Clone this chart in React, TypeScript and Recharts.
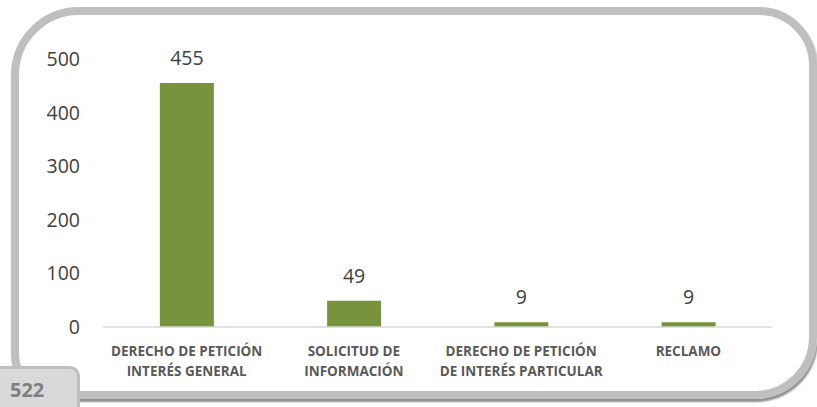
import React from "react";
import { BarChart, Bar, XAxis, YAxis, LabelList } from "recharts";

const categories = [
  "DERECHO DE PETICIÓN\nINTERÉS GENERAL",
  "SOLICITUD DE\nINFORMACIÓN",
  "DERECHO DE PETICIÓN\nDE INTERÉS PARTICULAR",
  "RECLAMO",
];
const values = [455, 49, 9, 9];
const yTicks = [0, 100, 200, 300, 400, 500];
const totalLabel = "522";

const data = categories.map((c, i) => ({ name: c, value: values[i] }));

const FONT = "'Open Sans', sans-serif";

const CatTick = (props: any) => {
  const { x, y, payload } = props;
  const lines = String(payload.value).split("\n");
  return (
    <g transform={`translate(${x},${y})`}>
      {lines.map((l: string, i: number) => (
        <text
          key={i}
          x={0}
          y={i * 20}
          dy={21}
          textAnchor="middle"
          fontFamily={FONT}
          fontWeight={700}
          fontSize={13.5}
          fill="#595959"
        >
          {l}
        </text>
      ))}
    </g>
  );
};

export default function App() {
  return (
    <div
      style={{
        position: "absolute",
        left: 0,
        top: 0,
        width: 817,
        height: 407,
        overflow: "hidden",
        background: "#ffffff",
      }}
    >
      <div
        style={{
          position: "absolute",
          left: 11,
          top: 7,
          width: 806,
          height: 392,
          border: "8px solid #bfbfbf",
          borderRadius: "68px 58px 62px 45px",
          boxSizing: "border-box",
          boxShadow: "1px 3px 2px #8f8f8f",
        }}
      />
      <div style={{ position: "absolute", left: 0, top: 0 }}>
        <BarChart
          width={817}
          height={407}
          data={data}
          margin={{ top: 59, right: 45, bottom: 0, left: 0 }}
          barCategoryGap="34%"
        >
          <XAxis
            dataKey="name"
            interval={0}
            tickLine={false}
            axisLine={{ stroke: "#d9d9d9", strokeWidth: 1.5 }}
            tick={<CatTick />}
            height={80}
          />
          <YAxis
            width={103}
            domain={[0, 500]}
            ticks={yTicks}
            axisLine={false}
            tickLine={false}
            tickSize={0}
            tickMargin={23}
            tick={{ fontFamily: FONT, fontSize: 19.5, fill: "#404040" }}
          />
          <Bar dataKey="value" fill="#77933c" isAnimationActive={false}>
            <LabelList
              dataKey="value"
              position="top"
              offset={18}
              style={{ fontFamily: FONT, fontSize: 19.5, fill: "#404040" }}
            />
          </Bar>
        </BarChart>
      </div>
      <div
        style={{
          position: "absolute",
          left: -4,
          top: 366,
          width: 84,
          height: 50,
          background: "#d9d9d9",
          border: "3px solid #bfbfbf",
          borderTopRightRadius: 10,
          boxSizing: "border-box",
        }}
      />
      <div
        style={{
          position: "absolute",
          left: 10,
          top: 377,
          fontFamily: FONT,
          fontWeight: 700,
          fontSize: 20,
          color: "#7f7f7f",
          lineHeight: "26px",
        }}
      >
        {totalLabel}
      </div>
    </div>
  );
}
